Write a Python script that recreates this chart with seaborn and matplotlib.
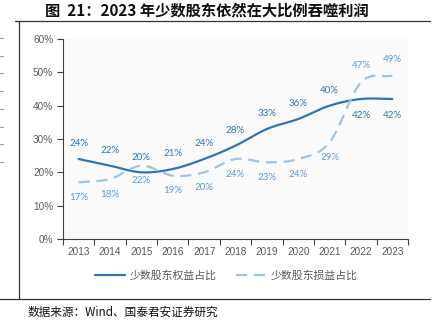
import numpy as np
import pandas as pd
import matplotlib
matplotlib.use("Agg")
import matplotlib.pyplot as plt
from matplotlib.lines import Line2D
import seaborn as sns

years = ["2013", "2014", "2015", "2016", "2017", "2018", "2019", "2020", "2021", "2022", "2023"]
equity_share = [24, 22, 20, 21, 24, 28, 33, 36, 40, 42, 42]
profit_share = [17, 18, 22, 19, 20, 24, 23, 24, 29, 47, 49]
yticks = [0, 10, 20, 30, 40, 50, 60]
title = "图  21：2023 年少数股东依然在大比例吞噬利润"
legend_labels = ["少数股东权益占比", "少数股东损益占比"]
source = "数据来源：Wind、国泰君安证券研究"

sns.set_theme(style="white")
plt.rcParams["font.family"] = ["Liberation Sans", "Noto Sans CJK SC", "DejaVu Sans"]


def smooth(vals, n=30):
    v = np.asarray(vals, dtype=float)
    k = len(v)
    m = np.zeros(k)
    m[1:-1] = (v[2:] - v[:-2]) / 2.0
    m[0] = v[1] - v[0]
    m[-1] = v[-1] - v[-2]
    xs, ys = [], []
    for i in range(k - 1):
        t = np.linspace(0, 1, n, endpoint=False)
        h00 = 2 * t**3 - 3 * t**2 + 1
        h10 = t**3 - 2 * t**2 + t
        h01 = -2 * t**3 + 3 * t**2
        h11 = t**3 - t**2
        xs.append(i + t)
        ys.append(h00 * v[i] + h10 * m[i] + h01 * v[i + 1] + h11 * m[i + 1])
    xs.append([k - 1])
    ys.append([v[-1]])
    return np.concatenate(xs), np.concatenate(ys)


c_solid = "#2e75b6"
c_dash = "#9dc3e6"
c_dash_lab = "#5b9bd5"

fig = plt.figure(figsize=(4.35, 3.27), dpi=100)
ax = fig.add_axes([63 / 435, 1 - 239 / 327, (408 - 63) / 435, 200 / 327])
ax.set_facecolor("#fafafa")

x1, y1 = smooth(equity_share)
x2, y2 = smooth(profit_share)
df = pd.concat([
    pd.DataFrame({"x": x1, "y": y1, "s": legend_labels[0]}),
    pd.DataFrame({"x": x2, "y": y2, "s": legend_labels[1]}),
])
sns.lineplot(data=df, x="x", y="y", hue="s", style="s",
             palette=[c_solid, c_dash], dashes=[(None, None), (5, 3)],
             linewidth=1.6, ax=ax, legend=False, sort=False, estimator=None)

n = len(years)
for i in range(n):
    swap = i >= 9
    ax.annotate(f"{equity_share[i]}%", (i, equity_share[i]), xytext=(0, -12 if swap else 11),
                textcoords="offset points", ha="center", va="center",
                fontsize=7, color=c_solid, family=["Lato", "DejaVu Sans"])
    ax.annotate(f"{profit_share[i]}%", (i, profit_share[i]), xytext=(0, 12 if swap else -11),
                textcoords="offset points", ha="center", va="center",
                fontsize=7, color=c_dash_lab, family=["Lato", "DejaVu Sans"])

ax.set_xlim(-0.5, n - 0.5)
ax.set_ylim(0, 60)
ax.set_yticks(yticks)
ax.set_yticklabels([f"{t}%" for t in yticks])
ax.set_xticks(np.arange(-0.5, n, 1.0))
ax.set_xticklabels([])
ax.set_xticks(np.arange(n), minor=True)
ax.set_xticklabels(years, minor=True)
ax.tick_params(axis="x", which="major", length=4, width=0.8, color="#404040", direction="out", bottom=True)
ax.tick_params(axis="x", which="minor", length=0, pad=6, labelsize=7.2, labelcolor="#595959")
ax.tick_params(axis="y", length=4, width=0.8, color="#404040", direction="out", left=True,
               labelsize=7.2, labelcolor="#595959", pad=3)
ax.set_xlabel("")
ax.set_ylabel("")
for s in ["top", "right"]:
    ax.spines[s].set_visible(False)
for s in ["left", "bottom"]:
    ax.spines[s].set_color("#404040")
    ax.spines[s].set_linewidth(0.8)
ax.grid(False)

handles = [Line2D([], [], color=c_solid, lw=1.6),
           Line2D([], [], color=c_dash, lw=1.6, dashes=(5, 3))]
fig.legend(handles, legend_labels, loc="center", bbox_to_anchor=(226 / 435, 1 - 276 / 327),
           ncol=2, frameon=False, handlelength=2.8, columnspacing=1.8, handletextpad=0.4,
           prop={"family": ["Noto Sans CJK SC", "DejaVu Sans"], "size": 7.8}, labelcolor="#595959")

fig.text(207 / 435, 1 - 10 / 327, title, ha="center", va="center", fontsize=11,
         fontweight="bold", family=["Noto Sans CJK SC", "DejaVu Sans"], color="#111111")
fig.text(28 / 435, 1 - 312 / 327, source, ha="left", va="center", fontsize=8.4,
         family=["Noto Sans CJK SC", "DejaVu Sans"], color="#111111")

lc = "#333333"
fig.add_artist(Line2D([15 / 435, 430 / 435], [1 - 20.5 / 327] * 2, color=lc, lw=0.9, transform=fig.transFigure))
fig.add_artist(Line2D([19 / 435] * 2, [1 - 20.5 / 327, 1 - 299 / 327], color=lc, lw=0.9, transform=fig.transFigure))
fig.add_artist(Line2D([0, 430 / 435], [1 - 299 / 327] * 2, color=lc, lw=0.9, transform=fig.transFigure))
for yy in [37.7, 55.7, 73, 91, 109, 127, 144, 162]:
    fig.add_artist(Line2D([0, 3 / 435], [1 - yy / 327] * 2, color="#999999", lw=0.8, transform=fig.transFigure))

fig.savefig("out.png", dpi=100)
